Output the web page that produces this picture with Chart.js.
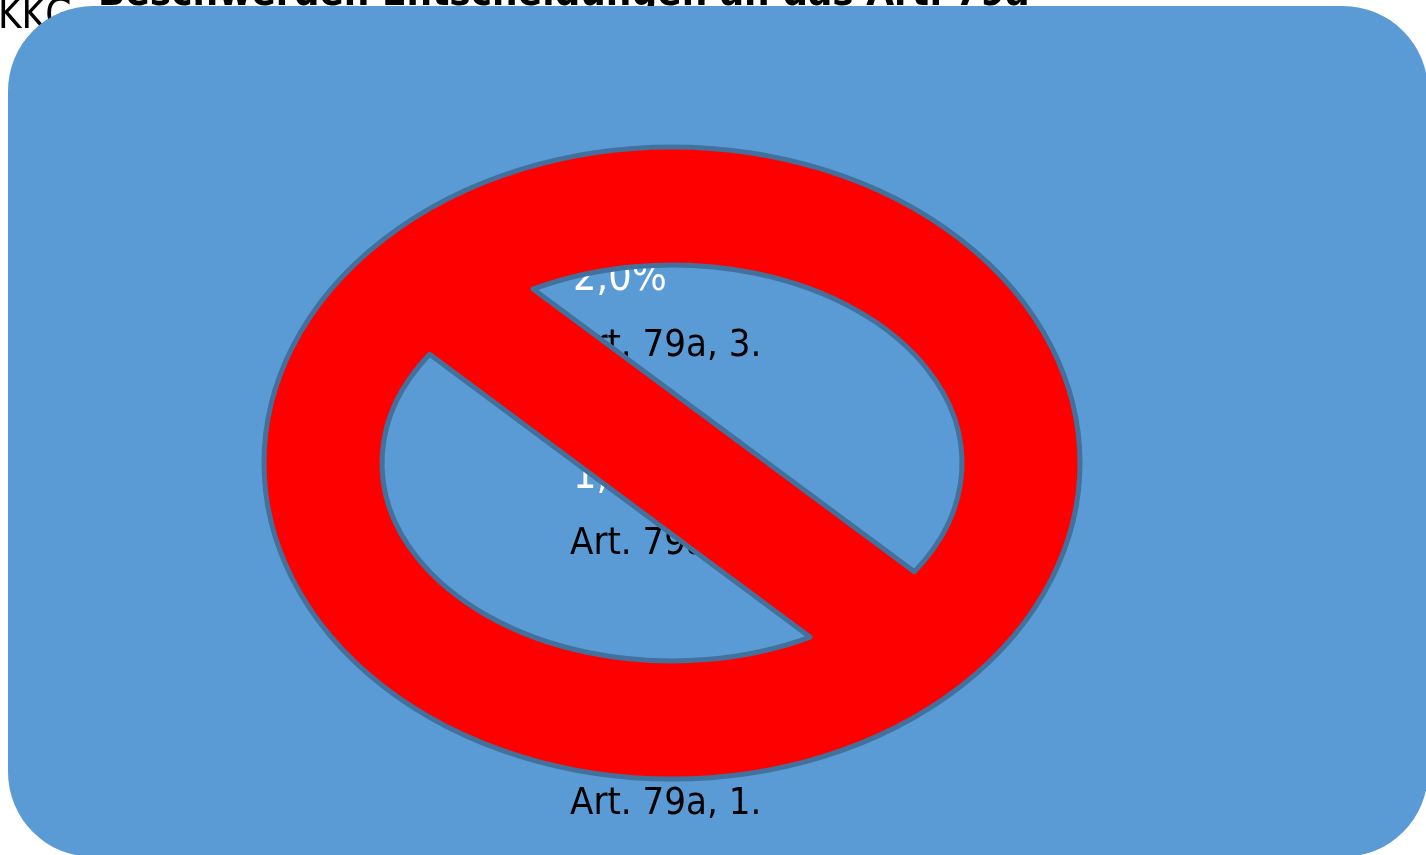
<!DOCTYPE html>
<html>
<head>
<meta charset="utf-8">
<title>Art. 79a</title>
<script src="https://cdn.jsdelivr.net/npm/chart.js@4"></script>
<style>
  html, body { margin: 0; padding: 0; background: #fff; overflow: hidden; height: 855px; }
  #wrap { width: 1426px; height: 916px; }
</style>
</head>
<body>
<div id="wrap"><canvas id="myChart"></canvas></div>
<script>
const headlineTop = "Beschwerden Entscheidungen an das Art. 79a";
const headlineNext = "KKG";
const categories = ["Art. 79a, 3.", "Art. 79a, 2.", "Art. 79a, 1."];
const shares = [2.0, 1.4, 1.1];

const panelColor = '#5B9BD5';
const fontFamily = '"DejaVu Sans Condensed", "DejaVu Sans"';

// row centres of the original are not evenly spaced
const rowNudge = [0, -31, 0];

// slide panel and headline sit behind the chart
const panelPlugin = {
  id: 'panel',
  beforeDraw(chart) {
    const ctx = chart.ctx;
    ctx.save();
    ctx.fillStyle = '#000';
    ctx.textBaseline = 'alphabetic';
    ctx.font = 'bold 40px "DejaVu Sans Condensed"';
    ctx.fillText(headlineTop, 98, 5);
    ctx.font = '40px ' + fontFamily;
    ctx.fillText(headlineNext, -2, 28);
    ctx.fillStyle = panelColor;
    ctx.beginPath();
    ctx.roundRect(8, 6, 1420, 851, 85);
    ctx.fill();
    ctx.restore();
  }
};

// category and value text, stacked over each row
const rowTextPlugin = {
  id: 'rowText',
  afterDatasetsDraw(chart) {
    const ctx = chart.ctx;
    const yScale = chart.scales.y;
    const xScale = chart.scales.x;
    ctx.save();
    ctx.textBaseline = 'alphabetic';
    categories.forEach((name, i) => {
      const y = yScale.getPixelForValue(i) + rowNudge[i] + 12;
      ctx.font = '38px ' + fontFamily;
      ctx.fillStyle = '#000';
      ctx.fillText(name, xScale.left, y);
      ctx.font = '41px ' + fontFamily;
      ctx.fillStyle = '#fff';
      ctx.fillText(shares[i].toFixed(1).replace('.', ',') + '%', xScale.left + 3, y - 66);
    });
    ctx.restore();
  }
};

// prohibition sign on top of everything
const signPlugin = {
  id: 'sign',
  afterDraw(chart) {
    const ctx = chart.ctx;
    const cx = 672, cy = 463;
    const inX = 290, inY = 198;
    const upperFrom = Math.atan2(-174 / inY, -139 / inX);
    const upperTo = Math.atan2(109 / inY, 243 / inX);
    const lowerFrom = Math.atan2(174 / inY, 138 / inX);
    const lowerTo = Math.atan2(-109 / inY, -243 / inX);
    ctx.save();
    ctx.beginPath();
    ctx.moveTo(cx + 408, cy);
    ctx.ellipse(cx, cy, 408, 316, 0, 0, Math.PI * 2);
    ctx.closePath();
    ctx.moveTo(cx - 139, cy - 174);
    ctx.ellipse(cx, cy, inX, inY, 0, upperFrom, upperTo);
    ctx.closePath();
    ctx.moveTo(cx + 138, cy + 174);
    ctx.ellipse(cx, cy, inX, inY, 0, lowerFrom, lowerTo);
    ctx.closePath();
    ctx.fillStyle = '#FF0000';
    ctx.fill('evenodd');
    ctx.strokeStyle = '#41719C';
    ctx.lineWidth = 5;
    ctx.lineJoin = 'round';
    ctx.stroke();
    ctx.restore();
  }
};

const myChart = document.getElementById('myChart');

new Chart(myChart, {
  type: 'bar',
  data: {
    labels: categories,
    datasets: [{
      label: 'Anteil',
      data: shares,
      backgroundColor: panelColor,
      borderWidth: 0
    }]
  },
  options: {
    indexAxis: 'y',
    responsive: true,
    maintainAspectRatio: false,
    animation: false,
    layout: { padding: { left: 570, right: 60, top: 229, bottom: 0 } },
    plugins: {
      legend: { display: false },
      title: { display: false },
      tooltip: { enabled: false }
    },
    scales: {
      x: { display: false, min: 0, max: 3 },
      y: { display: false }
    }
  },
  plugins: [panelPlugin, rowTextPlugin, signPlugin]
});
</script>
</body>
</html>
